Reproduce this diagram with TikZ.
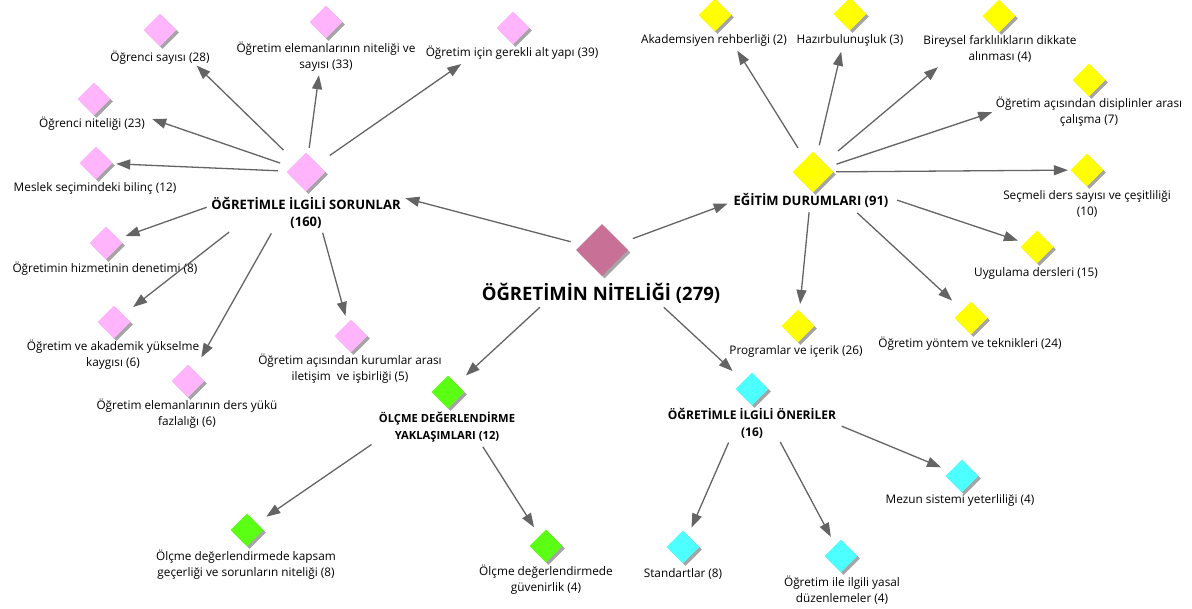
\documentclass[tikz,border=0pt]{standalone}
\usepackage{fontspec}
\setmainfont{Open Sans}
\usetikzlibrary{shapes.geometric,arrows.meta,shadows}
\definecolor{pinkc}{RGB}{255,180,252}
\definecolor{rootc}{RGB}{200,112,150}
\definecolor{yelc}{RGB}{255,255,0}
\definecolor{cyanc}{RGB}{77,255,255}
\definecolor{greenc}{RGB}{90,255,20}
\definecolor{shadowc}{RGB}{165,165,165}
\definecolor{arrc}{RGB}{100,100,100}
\begin{document}
\begin{tikzpicture}[x=1pt,y=-1pt,
  dia/.style={shape=diamond, aspect=1, inner sep=0pt, minimum width=#1, minimum height=#1,
    general shadow={fill=shadowc, shadow xshift=2.5pt, shadow yshift=-2.5pt}},
  leaf/.style={dia=33pt, fill=#1},
  lbl/.style={align=center, inner sep=0pt, font=\fontsize{11.8}{16}\selectfont},
  hublbl/.style={align=center, inner sep=0pt, font=\bfseries\fontsize{#1}{17}\selectfont},
  arr/.style={draw=arrc, line width=1.3pt, -{Triangle[length=14pt,width=10pt]}}
]
\useasboundingbox (0,0) rectangle (1192,609);

% root
\node[dia=52pt, fill=rootc] (root) at (602,250) {};
\node[lbl, font=\bfseries\fontsize{18.5}{22}\selectfont] (lroot) at (601,293) {ÖĞRETİMİN NİTELİĞİ (279)};

% hubs
\node[dia=39pt, fill=pinkc] (sor) at (306,172) {};
\node[hublbl=13] (lsor) at (306,213) {ÖĞRETİMLE İLGİLİ SORUNLAR\\(160)};
\node[dia=41pt, fill=yelc] (egt) at (813,172) {};
\node[hublbl=13] (legt) at (811,200) {EĞİTİM DURUMLARI (91)};
\node[leaf=greenc] (olc) at (448,392) {};
\node[hublbl=11.2] (lolc) at (447,427) {ÖLÇME DEĞERLENDİRME\\YAKLAŞIMLARI (12)};
\node[leaf=cyanc] (onr) at (752,389) {};
\node[hublbl=12] (lonr) at (752,423) {ÖĞRETİMLE İLGİLİ ÖNERİLER\\(16)};

% pink leaves
\node[leaf=pinkc] (s1) at (160,30) {};
\node[lbl] (ls1) at (160,58) {Öğrenci sayısı (28)};
\node[leaf=pinkc] (s2) at (326,22) {};
\node[lbl] (ls2) at (326,56.5) {Öğretim elemanlarının niteliği ve\\sayısı (33)};
\node[leaf=pinkc] (s3) at (513,28) {};
\node[lbl] (ls3) at (512,53) {Öğretim için gerekli alt yapı (39)};
\node[leaf=pinkc] (s4) at (94,99) {};
\node[lbl] (ls4) at (92,124) {Öğrenci niteliği (23)};
\node[leaf=pinkc] (s5) at (96,163) {};
\node[lbl] (ls5) at (95,188) {Meslek seçimindeki bilinç (12)};
\node[leaf=pinkc] (s6) at (106,243) {};
\node[lbl] (ls6) at (105,269) {Öğretimin hizmetinin denetimi (8)};
\node[leaf=pinkc] (s7) at (114,322) {};
\node[lbl] (ls7) at (113,355) {Öğretim ve akademik yükselme\\kaygısı (6)};
\node[leaf=pinkc] (s8) at (188,381) {};
\node[lbl] (ls8) at (187,413.5) {Öğretim elemanlarının ders yükü\\fazlalığı (6)};
\node[leaf=pinkc] (s9) at (351,336) {};
\node[lbl] (ls9) at (350,368.5) {Öğretim açısından kurumlar arası\\iletişim\ \ ve işbirliği (5)};

% yellow leaves
\node[leaf=yelc] (e1) at (715,15) {};
\node[lbl] (le1) at (714,40) {Akademsiyen rehberliği (2)};
\node[leaf=yelc] (e2) at (850,14) {};
\node[lbl] (le2) at (850,40) {Hazırbulunuşluk (3)};
\node[leaf=yelc] (e3) at (999,16) {};
\node[lbl] (le3) at (1000,49) {Bireysel farklılıkların dikkate\\alınması (4)};
\node[leaf=yelc] (e4) at (1089,80) {};
\node[lbl] (le4) at (1089,112) {Öğretim açısından disiplinler arası\\çalışma (7)};
\node[leaf=yelc] (e5) at (1087,170) {};
\node[lbl] (le5) at (1087,204) {Seçmeli ders sayısı ve çeşitliliği\\(10)};
\node[leaf=yelc] (e6) at (1037,247) {};
\node[lbl] (le6) at (1036,273) {Uygulama dersleri (15)};
\node[leaf=yelc] (e7) at (971,318) {};
\node[lbl] (le7) at (970,344) {Öğretim yöntem ve teknikleri (24)};
\node[leaf=yelc] (e8) at (798,326) {};
\node[lbl] (le8) at (796,351) {Programlar ve içerik (26)};

% cyan leaves
\node[leaf=cyanc] (n1) at (962,476) {};
\node[lbl] (ln1) at (960,500) {Mezun sistemi yeterliliği (4)};
\node[leaf=cyanc] (n2) at (683,547) {};
\node[lbl] (ln2) at (683,574) {Standartlar (8)};
\node[leaf=cyanc] (n3) at (841,556) {};
\node[lbl] (ln3) at (842,590) {Öğretim ile ilgili yasal\\düzenlemeler (4)};

% green leaves
\node[leaf=greenc] (o1) at (247,530) {};
\node[lbl] (lo1) at (246,565) {Ölçme değerlendirmede kapsam\\geçerliği ve sorunların niteliği (8)};
\node[leaf=greenc] (o2) at (546,546) {};
\node[lbl] (lo2) at (546,580) {Ölçme değerlendirmede\\güvenirlik (4)};

% connectors
\draw[arr, shorten <=11pt, shorten >=86.6pt] (root) -- (sor);
\draw[arr, shorten <=12.5pt, shorten >=74.8pt] (root) -- (egt);
\draw[arr, shorten <=65.8pt, shorten >=12.5pt] (root) -- (olc);
\draw[arr, shorten <=65.8pt, shorten >=14.5pt] (root) -- (onr);

\draw[arr, shorten <=17.4pt, shorten >=39.2pt] (sor) -- (s1);
\draw[arr, shorten <=6.8pt, shorten >=38.8pt] (sor) -- (s2);
\draw[arr, shorten <=14.8pt, shorten >=51.1pt] (sor) -- (s3);
\draw[arr, shorten <=11.9pt, shorten >=48.4pt] (sor) -- (s4);
\draw[arr, shorten <=9.3pt, shorten >=4.2pt] (sor) -- (s5);
\draw[arr, shorten <=90pt, shorten >=7.7pt] (sor) -- (s6);
\draw[arr, shorten <=83.6pt, shorten >=12.4pt] (sor) -- (s7);
\draw[arr, shorten <=56pt, shorten >=14.8pt] (sor) -- (s8);
\draw[arr, shorten <=47pt, shorten >=7.2pt] (sor) -- (s9);

\draw[arr, shorten <=13.4pt, shorten >=29.9pt] (egt) -- (e1);
\draw[arr, shorten <=10.2pt, shorten >=24.9pt] (egt) -- (e2);
\draw[arr, shorten <=18.1pt, shorten >=67.8pt] (egt) -- (e3);
\draw[arr, shorten <=8.4pt, shorten >=88.8pt] (egt) -- (e4);
\draw[arr, shorten <=2.5pt, shorten >=2.5pt] (egt) -- (e5);
\draw[arr, shorten <=72.3pt, shorten >=6.9pt] (egt) -- (e6);
\draw[arr, shorten <=45.6pt, shorten >=13.8pt] (egt) -- (e7);
\draw[arr, shorten <=21.5pt, shorten >=6.9pt] (egt) -- (e8);

\draw[arr, shorten <=84.3pt, shorten >=9.9pt] (onr) -- (n1);
\draw[arr, shorten <=45.7pt, shorten >=8.5pt] (onr) -- (n2);
\draw[arr, shorten <=47.7pt, shorten >=9.3pt] (onr) -- (n3);

\draw[arr, shorten <=80.8pt, shorten >=11.4pt] (olc) -- (o1);
\draw[arr, shorten <=52.8pt, shorten >=10.1pt] (olc) -- (o2);
\end{tikzpicture}
\end{document}
